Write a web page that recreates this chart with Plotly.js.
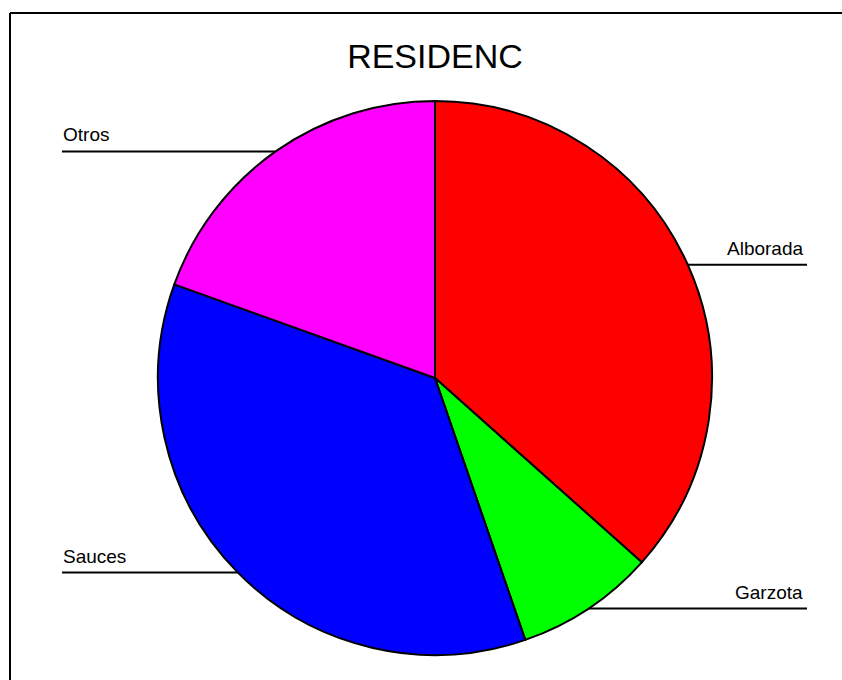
<!DOCTYPE html>
<html>
<head>
<meta charset="utf-8">
<script src="https://cdn.plot.ly/plotly-3.0.1.min.js"></script>
<style>html,body{margin:0;padding:0;background:#fff;}#chart{width:842px;height:680px;}</style>
</head>
<body>
<div id="chart"></div>
<script>
const chartTitle = 'RESIDENC';
const categories = ['Alborada', 'Garzota', 'Sauces', 'Otros'];
const values = [45, 10, 44, 24];
const sliceColors = ['#FF0000', '#00FF00', '#0000FF', '#FF00FF'];

const W = 842, H = 680;
const cx = 435, cy = 378, R = 277;
const rightEnd = 807, leftEnd = 62;
const FONT = 'Arial, "Liberation Sans", sans-serif';

const px2x = p => p / W;
const px2y = p => 1 - p / H;

const total = values.reduce((a, b) => a + b, 0);
const shapes = [
  {type: 'line', xref: 'paper', yref: 'paper', x0: px2x(10), x1: px2x(842), y0: px2y(13), y1: px2y(13), line: {color: '#000', width: 2}},
  {type: 'line', xref: 'paper', yref: 'paper', x0: px2x(10), x1: px2x(10), y0: px2y(13), y1: px2y(680), line: {color: '#000', width: 2}}
];
const annotations = [];
let cum = 0;
values.forEach((v, i) => {
  const mid = (cum + v / 2) / total * 2 * Math.PI;
  cum += v;
  const ex = cx + R * Math.sin(mid);
  const ey = cy - R * Math.cos(mid);
  const right = Math.sin(mid) >= 0;
  const endX = right ? rightEnd : leftEnd;
  shapes.push({type: 'line', xref: 'paper', yref: 'paper', x0: px2x(ex), x1: px2x(endX), y0: px2y(ey), y1: px2y(ey), line: {color: '#000', width: 2}});
  annotations.push({
    xref: 'paper', yref: 'paper', showarrow: false,
    x: px2x(right ? endX - 3 : endX), y: px2y(ey),
    xanchor: right ? 'right' : 'left', yanchor: 'bottom',
    yshift: 5, borderpad: 0,
    text: categories[i], font: {family: FONT, size: 19, color: '#000'}
  });
});

const data = [{
  type: 'pie',
  labels: categories,
  values: values,
  sort: false,
  direction: 'clockwise',
  rotation: 0,
  textinfo: 'none',
  hoverinfo: 'skip',
  showlegend: false,
  marker: {colors: sliceColors, line: {color: '#000', width: 2}},
  domain: {x: [(cx - R) / W, (cx + R) / W], y: [(H - cy - R) / H, (H - cy + R) / H]}
}];

const layout = {
  width: W, height: H,
  margin: {l: 0, r: 0, t: 0, b: 0},
  paper_bgcolor: '#fff',
  title: {text: chartTitle, x: cx / W, xanchor: 'center', y: 1 - 56 / H, yref: 'container', yanchor: 'middle', font: {family: FONT, size: 34, color: '#000'}},
  shapes: shapes,
  annotations: annotations
};

Plotly.newPlot('chart', data, layout, {displayModeBar: false, staticPlot: true});
</script>
</body>
</html>
